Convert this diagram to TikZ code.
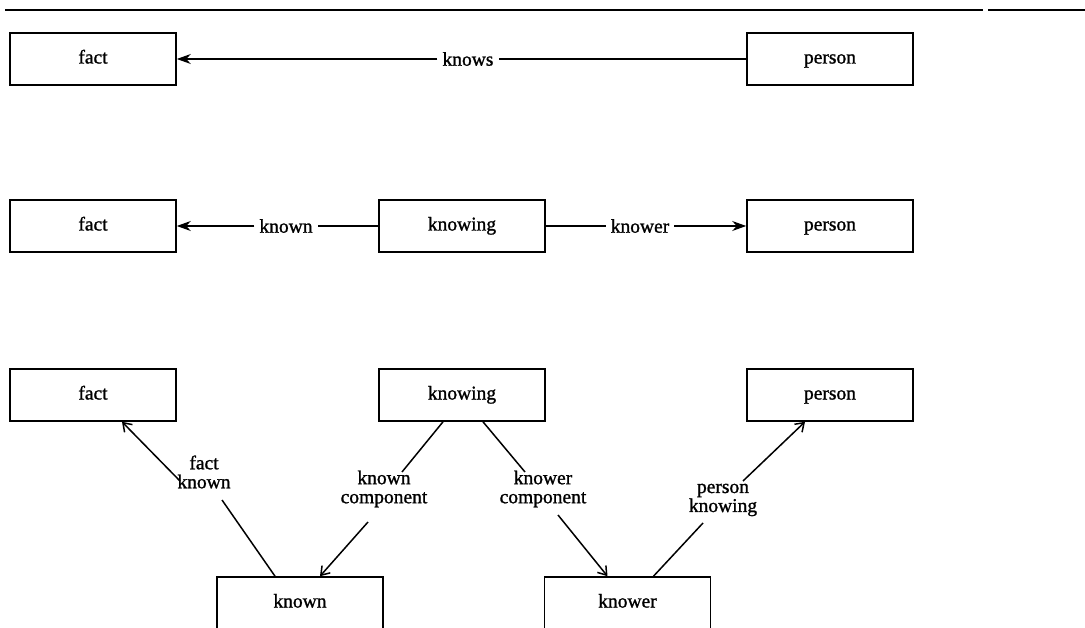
\documentclass[tikz,border=0pt]{standalone}
\usepackage{fontspec}
\setmainfont{Liberation Serif}[FakeBold=1.2]
\usetikzlibrary{arrows.meta,calc}

\tikzset{
  txt/.style={font=\fontsize{19.5}{19}\selectfont},
  box/.style={draw, line width=1.6pt, minimum width=166pt, minimum height=52pt,
              inner sep=0pt, text height=13pt, text depth=4pt, txt},
  lab/.style={inner sep=5pt, align=center, txt},
  edge/.style={line width=1.5pt},
  solidtip/.style={-{Stealth[length=14pt,width=10pt]}},
  bartip/.style={-{Straight Barb[length=8pt,width=11pt,line width=1.5pt]}}
}

\begin{document}
\begin{tikzpicture}[x=1pt,y=-1pt]
  \clip (0,0) rectangle (1085,628);
  \fill[white] (0,0) rectangle (1085,628);

  % page rule
  \coordinate (ruleA) at (5,10);
  \coordinate (ruleB) at (983,10);
  \coordinate (ruleC) at (988,10);
  \coordinate (ruleD) at (1085,10);
  \draw[line width=2pt] (ruleA) -- (ruleB);
  \draw[line width=2pt] (ruleC) -- (ruleD);

  % binary relation
  \node[box] (fact1) at (93,59) {fact};
  \node[box] (person1) at (830,59) {person};
  \node[lab] (knows1) at (468,59) {knows};
  \draw[edge] (person1) -- (knows1);
  \draw[edge,solidtip] (knows1) -- (fact1);

  % relation as a node
  \node[box] (fact2) at (93,226) {fact};
  \node[box] (knowing2) at (462,226) {knowing};
  \node[box] (person2) at (830,226) {person};
  \node[lab] (known2) at (286,226) {known};
  \node[lab] (knower2) at (640,226) {knower};
  \draw[edge] (knowing2) -- (known2);
  \draw[edge,solidtip] (known2) -- (fact2);
  \draw[edge] (knowing2) -- (knower2);
  \draw[edge,solidtip] (knower2) -- (person2);

  % components
  \node[box] (fact3) at (93,395) {fact};
  \node[box] (knowing3) at (462,395) {knowing};
  \node[box] (person3) at (830,395) {person};
  \node[box] (known3) at (300,603) {known};
  \node[box] (knower3) at (627.5,603) {knower};

  \node[lab] (factknown) at (204,472) {fact\\known};
  \node[lab] (knowncomp) at (384,489) {known\\component};
  \node[lab] (knowercomp) at (543,489) {knower\\component};
  \node[lab] (personknowing) at (723,500) {person\\knowing};

  \draw[edge] ($(known3.north)+(-25,0)$) -- ($(factknown.center)+(18,28)$);
  \draw[edge,bartip] ($(factknown.center)+(-24,9)$) -- ($(fact3.south)+(29,0)$);

  \draw[edge] ($(knowing3.south)+(-19,0)$) -- ($(knowncomp.center)+(18,-17)$);
  \draw[edge,bartip] ($(knowncomp.center)+(-16,33)$) -- ($(known3.north)+(20,0)$);

  \draw[edge] ($(knowing3.south)+(21,0)$) -- ($(knowercomp.center)+(-18,-17)$);
  \draw[edge,bartip] ($(knowercomp.center)+(15,26)$) -- ($(knower3.north)+(-20,0)$);

  \draw[edge] ($(knower3.north)+(26,0)$) -- ($(personknowing.center)+(-20,23)$);
  \draw[edge,bartip] ($(personknowing.center)+(20,-19)$) -- ($(person3.south)+(-25,0)$);
\end{tikzpicture}
\end{document}
